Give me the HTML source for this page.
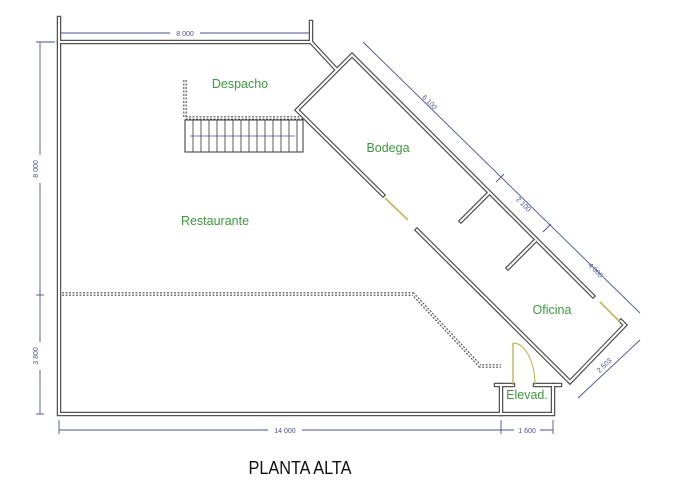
<!DOCTYPE html>
<html><head><meta charset="utf-8"><style>
html,body{margin:0;padding:0;background:#fff;width:700px;height:480px;overflow:hidden}
svg{display:block}
.w{fill:none;stroke:#555;stroke-width:4.5;stroke-linejoin:miter;stroke-linecap:square}
.wi{fill:none;stroke:#fff;stroke-width:2;stroke-linejoin:miter;stroke-linecap:square}
.d{stroke:#4a4f9a;stroke-width:0.9;fill:none}
.dt{font-family:"Liberation Sans",sans-serif;font-size:7px;fill:#4a4f9a}
.g{font-family:"Liberation Sans",sans-serif;font-size:12.5px;fill:#3c9a3c}
</style></head><body>
<svg width="700" height="480" viewBox="0 0 700 480">
<line class="d" x1="59" y1="33" x2="311" y2="33"/>
<rect x="170" y="29" width="30" height="8" fill="#fff"/>
<text class="dt" x="185" y="36" text-anchor="middle">8 000</text>
<line class="d" x1="40" y1="42" x2="40" y2="414"/>
<line class="d" x1="36" y1="42" x2="55" y2="42"/>
<line class="d" x1="36" y1="295" x2="44" y2="295"/>
<line class="d" x1="36" y1="414" x2="44" y2="414"/>
<rect x="35" y="155" width="10" height="28" fill="#fff"/>
<text class="dt" transform="translate(38,169) rotate(-90)" text-anchor="middle">8 000</text>
<rect x="35" y="342" width="10" height="28" fill="#fff"/>
<text class="dt" transform="translate(38,356) rotate(-90)" text-anchor="middle">3 800</text>
<line class="d" x1="59" y1="430" x2="553" y2="430"/>
<line class="d" x1="59" y1="420" x2="59" y2="434"/>
<line class="d" x1="501" y1="420" x2="501" y2="434"/>
<line class="d" x1="553" y1="420" x2="553" y2="434"/>
<rect x="268" y="426" width="34" height="8" fill="#fff"/>
<text class="dt" x="285" y="433" text-anchor="middle">14 000</text>
<rect x="514" y="426" width="26" height="8" fill="#fff"/>
<text class="dt" x="527" y="433" text-anchor="middle">1 600</text>
<line class="d" x1="363" y1="42" x2="640" y2="313"/>
<line class="d" x1="496" y1="182" x2="504" y2="174"/>
<line class="d" x1="543" y1="232" x2="551" y2="224"/>
<text class="dt" transform="translate(428,104) rotate(45)" text-anchor="middle">6 100</text>
<text class="dt" transform="translate(522,206) rotate(45)" text-anchor="middle">2 100</text>
<text class="dt" transform="translate(594,272) rotate(45)" text-anchor="middle">4 000</text>
<line class="d" x1="640" y1="340" x2="578" y2="398"/>
<text class="dt" transform="translate(606,367) rotate(-45)" text-anchor="middle">2 503</text>
<polyline points="62,294 413,294 480,366 501,366" fill="none" stroke="#555" stroke-width="3.5" stroke-dasharray="2,1.5"/>
<polyline points="62,294 413,294 480,366 501,366" fill="none" stroke="#fff" stroke-width="1.2"/>
<polyline points="185,80 185,118 303,118" fill="none" stroke="#555" stroke-width="3.5" stroke-dasharray="2,1.5"/>
<polyline points="185,80 185,118 303,118" fill="none" stroke="#fff" stroke-width="1.2"/>
<rect x="185" y="120" width="118" height="32" fill="none" stroke="#333" stroke-width="1"/>
<g stroke="#333" stroke-width="0.8">
<line x1="193" y1="120" x2="193" y2="152"/><line x1="201" y1="120" x2="201" y2="152"/><line x1="209" y1="120" x2="209" y2="152"/><line x1="217" y1="120" x2="217" y2="152"/><line x1="225" y1="120" x2="225" y2="152"/><line x1="233" y1="120" x2="233" y2="152"/><line x1="241" y1="120" x2="241" y2="152"/><line x1="249" y1="120" x2="249" y2="152"/><line x1="257" y1="120" x2="257" y2="152"/><line x1="265" y1="120" x2="265" y2="152"/><line x1="273" y1="120" x2="273" y2="152"/><line x1="281" y1="120" x2="281" y2="152"/><line x1="289" y1="120" x2="289" y2="152"/><line x1="297" y1="120" x2="297" y2="152"/>
</g>
<line x1="190" y1="136" x2="295" y2="136" stroke="#4a4f9a" stroke-width="0.8"/>
<g>
<polyline class="w" points="59,18 59,414 553,414 553,385 560,385"/>
<polyline class="w" points="59,42 311,42 311,22"/>
<line class="w" x1="311" y1="42" x2="336" y2="69"/>
<polyline class="w" points="501,414 501,385 496,385"/>
<line class="w" x1="501" y1="385" x2="513" y2="385"/>
<line class="w" x1="535" y1="385" x2="553" y2="385"/>
<polyline class="w" points="383,195 297,110 352,55 593,296"/>
<polyline class="w" points="417,230 570,382 625,325 621,321"/>
<line class="w" x1="489" y1="193" x2="461" y2="221"/>
<line class="w" x1="535" y1="241" x2="508" y2="268"/>
<polyline class="wi" points="59,18 59,414 553,414 553,385 560,385"/>
<polyline class="wi" points="59,42 311,42 311,22"/>
<line class="wi" x1="311" y1="42" x2="336" y2="69"/>
<polyline class="wi" points="501,414 501,385 496,385"/>
<line class="wi" x1="501" y1="385" x2="513" y2="385"/>
<line class="wi" x1="535" y1="385" x2="553" y2="385"/>
<polyline class="wi" points="383,195 297,110 352,55 593,296"/>
<polyline class="wi" points="417,230 570,382 625,325 621,321"/>
<line class="wi" x1="489" y1="193" x2="461" y2="221"/>
<line class="wi" x1="535" y1="241" x2="508" y2="268"/>
</g>
<line x1="385" y1="198" x2="408" y2="220" stroke="#b8b040" stroke-width="1.5"/>
<line x1="600" y1="302" x2="620" y2="322" stroke="#b8b040" stroke-width="1.5"/>
<line x1="513" y1="385" x2="513" y2="343" stroke="#b8b040" stroke-width="1.3"/>
<path d="M513,343 A22,42 0 0 1 535,385" fill="none" stroke="#b8b040" stroke-width="1"/>
<text class="g" x="240" y="88" text-anchor="middle">Despacho</text>
<text class="g" x="388" y="152" text-anchor="middle">Bodega</text>
<text class="g" x="215" y="225" text-anchor="middle">Restaurante</text>
<text class="g" x="552" y="314" text-anchor="middle">Oficina</text>
<text class="g" x="527" y="399" text-anchor="middle">Elevad.</text>
<text x="300" y="474" text-anchor="middle" font-family="Liberation Sans Narrow, Liberation Sans, sans-serif" font-size="18.5" fill="#111" transform="translate(300,0) scale(0.88,1) translate(-300,0)">PLANTA ALTA</text>
</svg>
</body></html>
